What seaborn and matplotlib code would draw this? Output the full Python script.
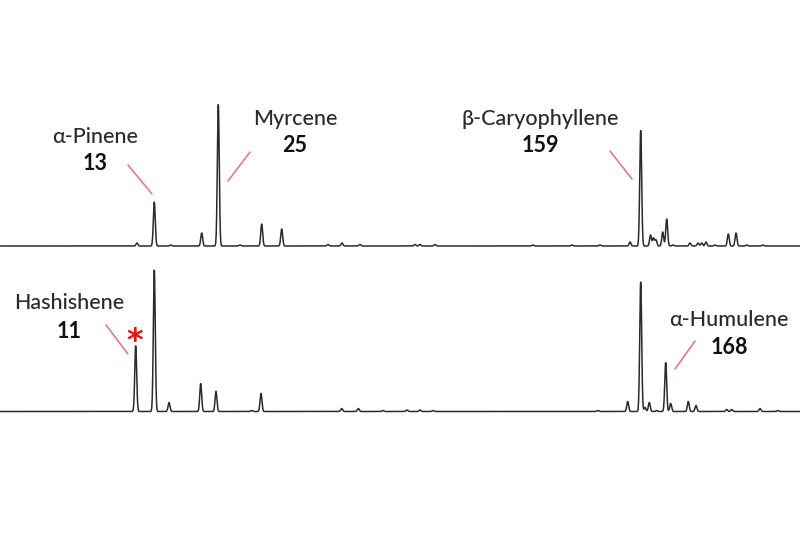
import numpy as np
import pandas as pd
import matplotlib.pyplot as plt
import seaborn as sns

# --------------------------------------------------------------------------
# peak tables (x = retention position, h = height)
# --------------------------------------------------------------------------
top_x = [137, 154.3, 170.7, 201.7, 218.3, 240, 261.7, 281.7, 328, 342, 360,
         415, 420, 435, 533, 572, 600, 630, 640.7, 650.5, 653.5, 656, 662.7,
         666.7, 673, 690, 698, 701.7, 706, 715, 728.3, 736, 746.7, 763]
top_h = [3, 44, 1, 13, 142, 1, 22, 17, 1.5, 3, 1.5,
         1.5, 1.5, 1.5, 1, 1, 1, 4, 116, 11, 8, 6, 14,
         27, 1, 3, 3, 3, 4, 1, 12, 13, 1, 1]

bot_x = [135.7, 154.3, 169, 200.7, 216, 251.7, 261, 341.7, 358.3, 383,
         407, 420, 433, 598, 627.7, 640.7, 645, 649.3, 656.7, 665.7, 670.7,
         688.3, 696, 726.7, 731.7, 760, 778]
bot_h = [66, 142, 9, 28, 20, 1, 18, 3, 3, 1,
         1.5, 1.5, 1, 1, 10, 130, 4, 9, 1, 49, 8,
         10, 6, 2, 2, 3, 1]

top_base = 246
bot_base = 411.5

labels = [
    # (name, number, x, y name, y number, leader x0, y0, x1, y1)
    ('α-Pinene', '13', 95, 137, 164, 128, 165, 152, 194),
    ('Myrcene', '25', 295, 119, 146, 250, 152, 228, 181),
    ('β-Caryophyllene', '159', 540, 119, 146, 610, 151, 632, 179),
    ('Hashishene', '11', 69, 303, 331, 106, 325, 128, 354),
    ('α-Humulene', '168', 729, 320, 348, 695, 341, 675, 369),
]

# --------------------------------------------------------------------------
# build the traces
# --------------------------------------------------------------------------
xs = np.arange(0, 800.1, 0.2)


def trace(px, ph, base, width=0.95):
    sig = np.zeros_like(xs)
    for p, h in zip(px, ph):
        sig += h * np.exp(-0.5 * ((xs - p) / width) ** 2)
    return base - sig


df = pd.concat([
    pd.DataFrame({'x': xs, 'y': trace(top_x, top_h, top_base), 'trace': 'top'}),
    pd.DataFrame({'x': xs, 'y': trace(bot_x, bot_h, bot_base), 'trace': 'bottom'}),
])

# --------------------------------------------------------------------------
# plot
# --------------------------------------------------------------------------
sns.set_style('white')
plt.rcParams['font.family'] = ['Lato', 'DejaVu Sans']

fig = plt.figure(figsize=(8, 5.33), dpi=100)
ax = fig.add_axes([0, 0, 1, 1])
sns.lineplot(data=df, x='x', y='y', hue='trace',
             palette={'top': '#2b2b2b', 'bottom': '#2b2b2b'},
             linewidth=1.1, legend=False, ax=ax, estimator=None, sort=False)

for name, num, lx, ly, ny, x0, y0, x1, y1 in labels:
    ax.text(lx, ly, name, ha='center', va='center', fontsize=15.5,
            fontweight='medium', color='#2a2a2a')
    ax.text(lx, ny, num, ha='center', va='center', fontsize=15.5,
            fontweight='bold', color='#111111')
    ax.plot([x0, x1], [y0, y1], color='#e8707a', linewidth=1.1)

ax.text(134.3, 341.5, '*', ha='center', va='center', fontsize=23,
        fontweight='bold', color='#ee1111', family='DejaVu Sans')

ax.set_xlim(0, 800)
ax.set_ylim(533, 0)
ax.axis('off')

fig.savefig('out.png', dpi=100)
